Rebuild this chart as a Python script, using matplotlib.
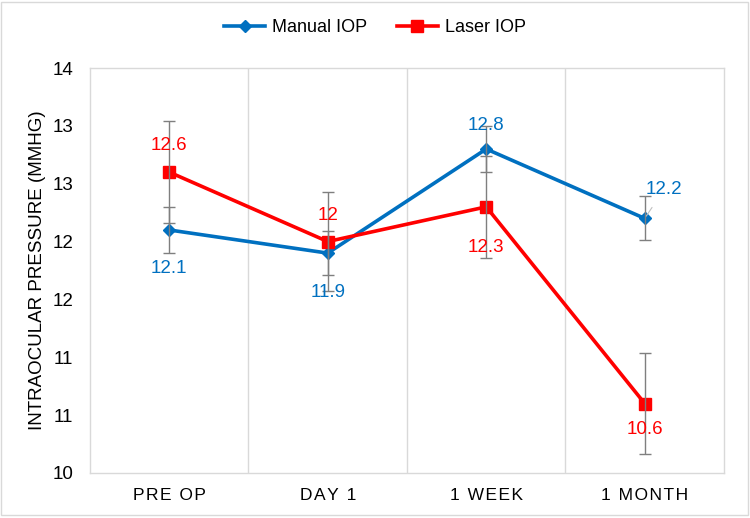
import matplotlib
matplotlib.use("Agg")
import matplotlib.pyplot as plt
from matplotlib.patches import Rectangle
import numpy as np

plt.rcParams['font.family'] = ['Liberation Sans', 'DejaVu Sans']

# chart data
categories = ['PRE OP', 'DAY 1', '1 WEEK', '1 MONTH']
manual_iop = [12.1, 11.9, 12.8, 12.2]
laser_iop = [12.6, 12.0, 12.3, 10.6]
manual_err = [0.2, 0.19, 0.2, 0.19]
laser_err = [0.44, 0.43, 0.44, 0.44]
y_ticks = [10, 10.5, 11, 11.5, 12, 12.5, 13, 13.5]
y_tick_labels = ['10', '11', '11', '12', '12', '13', '13', '14']

BLUE = '#0070C0'
RED = '#FF0000'
GREY = '#7f7f7f'

fig = plt.figure(figsize=(7.5, 5.18), dpi=100)
ax = fig.add_axes([0.12, 0.087, 0.8453, 0.7817])

# outer chart border
fig.patches.append(Rectangle((1 / 750, 3 / 518), 747 / 750, 513 / 518,
                             transform=fig.transFigure, fill=False,
                             edgecolor='#d9d9d9', lw=1))

x = np.arange(len(categories))

ax.errorbar(x, manual_iop, yerr=manual_err, fmt='none', ecolor=GREY,
            elinewidth=1, capsize=4, capthick=1, zorder=4)
ax.errorbar(x, laser_iop, yerr=laser_err, fmt='none', ecolor=GREY,
            elinewidth=1, capsize=4, capthick=1, zorder=4)

ax.plot(x, manual_iop, color=BLUE, lw=2.6, marker='D', ms=6.5,
        label='Manual IOP', zorder=3)
ax.plot(x, laser_iop, color=RED, lw=2.6, marker='s', ms=8,
        label='Laser IOP', zorder=3)

# data labels (offsets in points): above or below the marker
manual_off = [(0, -28), (0, -28), (0, 17), (14, 21)]
laser_off = [(0, 19), (0, 19), (0, -29), (0, -19)]
for i, v in enumerate(manual_iop):
    dx, dy = manual_off[i]
    arrow = dict(arrowstyle='-', color='#bfbfbf', lw=0.8, shrinkA=6) if i == 3 else None
    ax.annotate(f'{v:g}', (x[i], v), xytext=(dx, dy), textcoords='offset points',
                ha='center', va='center', color=BLUE, fontsize=13.5,
                arrowprops=arrow, zorder=6)
for i, v in enumerate(laser_iop):
    dx, dy = laser_off[i]
    ax.annotate(f'{v:g}', (x[i], v), xytext=(dx, dy), textcoords='offset points',
                ha='center', va='center', color=RED, fontsize=13.5, zorder=6)

ax.set_xlim(-0.5, len(categories) - 0.5)
ax.set_ylim(10, 13.5)
ax.set_yticks(y_ticks)
ax.set_yticklabels(y_tick_labels)
ax.set_xticks(x)
ax.set_xticklabels(['\u200a'.join(c) for c in categories])
ax.set_xticks(x[:-1] + 0.5, minor=True)
ax.grid(which='minor', axis='x', color='#d9d9d9', lw=1)
ax.tick_params(which='both', length=0)
ax.tick_params(axis='y', labelsize=13.5, pad=12)
ax.tick_params(axis='x', labelsize=12.5, pad=11)
for s in ax.spines.values():
    s.set_color('#d9d9d9')
    s.set_linewidth(1)

ax.set_ylabel('INTRAOCULAR PRESSURE (MMHG)', fontsize=13.5, labelpad=5)

fig.legend(loc='center', bbox_to_anchor=(0.5, 0.946), ncol=2, frameon=False,
           fontsize=13, handlelength=2.3, handletextpad=0.4, columnspacing=1.6)

fig.savefig('out.png', dpi=100)
